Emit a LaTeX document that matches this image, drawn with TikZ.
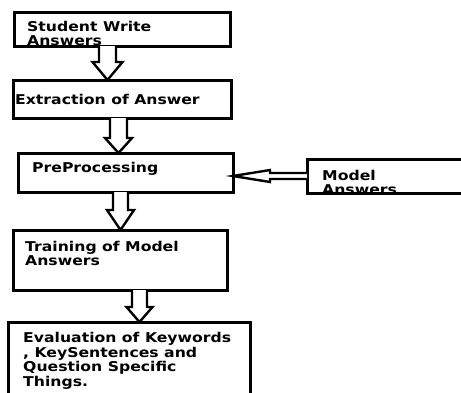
\documentclass[tikz,border=0pt]{standalone}
\usepackage{fontspec}
\setmainfont{DejaVu Sans}[FakeStretch=1.16]
\usetikzlibrary{calc}
\tikzset{
  boxnode/.style={draw=black, line width=3pt, minimum width=#1, inner sep=0pt, outer sep=0pt},
  txt/.style={anchor=base west, align=left, inner sep=0pt, font=\fontsize{13.5}{14.5}\selectfont\bfseries},
  blockarrow/.style={draw=black, line width=2.4pt, fill=white, line join=miter},
}
\newcommand\blockdown[6]{%
  \draw[blockarrow] let \p1=(#1.south), \p2=(#2.north) in
    (#3pt-#4pt,\y1) -- (#3pt-#4pt,\y2+#6pt) -- (#3pt-#5pt,\y2+#6pt) -- (#3pt,\y2)
    -- (#3pt+#5pt,\y2+#6pt) -- (#3pt+#4pt,\y2+#6pt) -- (#3pt+#4pt,\y1);}
\begin{document}
\begin{tikzpicture}[x=1pt,y=-1pt]
\useasboundingbox (0,0) rectangle (461,392);
% boxes
\node[boxnode=216pt, minimum height=34pt] (b1) at (122,29) {};
\node[boxnode=218pt, minimum height=38pt] (b2) at (122,99) {};
\node[boxnode=215pt, minimum height=39pt] (b3) at (125.5,172.5) {};
\node[boxnode=163pt, minimum height=34pt] (m) at (388.5,176.5) {};
\node[boxnode=214pt, minimum height=60pt] (b4) at (120,260) {};
\node[boxnode=242pt, minimum height=83pt] (b5) at (129,363.5) {};
% texts (anchored at the baseline of the last line)
\node[txt] (t1) at (27,45.5) {Student Write\\Answers};
\node[txt] (t2) at (15,104) {Extraction of Answer};
\node[txt] (t3) at (32,172) {PreProcessing};
\begin{scope}
  \clip (307,161.5) rectangle (461,191.5);
  \node[txt] (tm) at (322,194.5) {Model\\Answers};
\end{scope}
\node[txt] (t4) at (25,265.5) {Training of Model\\Answers};
\node[txt] (t5) at (23,386) {Evaluation of Keywords\\, KeySentences and\\Question Specific\\Things.};
% arrows
\blockdown{b1}{b2}{107.5}{8.5}{15}{18}
\blockdown{b2}{b3}{118.5}{8.5}{13.5}{15}
\blockdown{b3}{b4}{120.5}{7.5}{13.5}{20}
\blockdown{b4}{b5}{139.5}{7.5}{13}{15}
\draw[blockarrow] let \p1=(m.west), \p2=(b3.east) in
  (\x1,-173pt) -- (270pt,-173pt) -- (270pt,-170pt) -- (\x2,-176pt) -- (270pt,-182pt)
  -- (270pt,-179pt) -- (\x1,-179pt);
\end{tikzpicture}
\end{document}
